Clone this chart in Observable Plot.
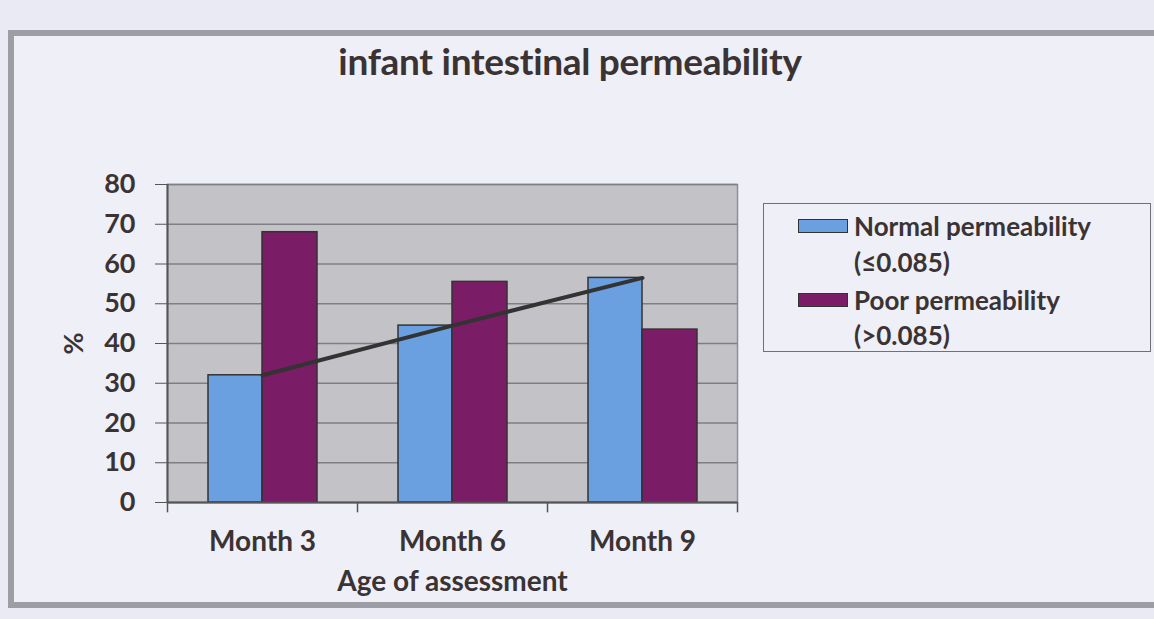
<!DOCTYPE html>
<html><head><meta charset="utf-8">
<script src="https://cdn.jsdelivr.net/npm/d3@7"></script>
<script src="https://cdn.jsdelivr.net/npm/@observablehq/plot@0.6"></script>
<style>
html,body{margin:0;padding:0;}
body{width:1154px;height:619px;background:#e9eaf3;overflow:hidden;position:relative;font-family:Lato,"Open Sans",sans-serif;color:#3b3333;}
#frame{position:absolute;left:8px;top:30px;width:1160px;height:566px;border:6px solid #9d9da5;border-right:none;background:#eeeff7;}
#chart{position:absolute;left:0;top:0;}
#title{position:absolute;left:0;width:1140px;top:38px;text-align:center;font-size:37px;line-height:46px;font-weight:700;letter-spacing:-0.3px;}
#legend{position:absolute;left:763px;top:203px;width:388px;height:149px;border:1.5px solid #707076;box-sizing:border-box;background:#eeeff7;}
.lrow{position:absolute;left:34px;height:34px;display:flex;align-items:center;font-size:26px;font-weight:700;white-space:nowrap;}
.sw{width:48px;height:12px;border:1.5px solid #333;margin-right:6px;}
.sub{padding-left:56px;}
</style></head>
<body>
<div id="frame"></div>
<div id="chart"></div>
<div id="title"></div>
<div id="legend"></div>
<script>
const months = ["Month 3", "Month 6", "Month 9"];
const normal = [32, 44.5, 56.5];
const poor = [68, 55.5, 43.5];
const yTicks = [0, 10, 20, 30, 40, 50, 60, 70, 80];
const seriesNames = ["Normal permeability", "Poor permeability"];
const seriesSub = ["(\u22640.085)", "(>0.085)"];
const seriesColors = ["#6a9fe0", "#7b1c66"];
const titleText = "infant intestinal permeability";
const xLabel = "Age of assessment";
const yLabel = "%";

document.getElementById("title").textContent = titleText;

const W = 1154, H = 619, mL = 167, mR = 417, mT = 184, mB = 117;
const bw = (W - mL - mR) / months.length;

const chart = Plot.plot({
  width: W, height: H,
  marginLeft: mL, marginRight: mR, marginTop: mT, marginBottom: mB,
  style: {background: "transparent", fontFamily: "Lato, 'Open Sans', sans-serif", color: "#3b3333", overflow: "visible"},
  x: {domain: months, padding: 0},
  y: {domain: [0, 80]},
  marks: [
    Plot.frame({fill: "#c3c3c7", stroke: "#8e8e94", strokeWidth: 1.5}),
    Plot.gridY(yTicks, {stroke: "#7e7e84", strokeOpacity: 1, strokeWidth: 1.5}),
    Plot.barY(months, {x: d => d, y: (d, i) => normal[i], fill: seriesColors[0], stroke: "#333", strokeWidth: 1.5, insetLeft: 41, insetRight: 95}),
    Plot.barY(months, {x: d => d, y: (d, i) => poor[i], fill: seriesColors[1], stroke: "#333", strokeWidth: 1.5, insetLeft: 95, insetRight: 40}),
    Plot.lineY(months, {x: d => d, y: (d, i) => normal[i], stroke: "#333", strokeWidth: 4}),
    Plot.ruleY([0], {stroke: "#555", strokeWidth: 2}),
    Plot.ruleX([months[0]], {dx: -bw / 2, y1: 0, y2: 80, stroke: "#555", strokeWidth: 2}),
    Plot.ruleX(months, {dx: -bw / 2, y1: 0, y2: -2.6, stroke: "#555", strokeWidth: 1.5}),
    Plot.ruleX([months[months.length - 1]], {dx: bw / 2, y1: 0, y2: -2.6, stroke: "#555", strokeWidth: 1.5}),
    Plot.axisY(yTicks, {tickSize: 12, tickPadding: 20, fontSize: 27, fontWeight: "bold", stroke: "#555", fill: "#3b3333",
      label: yLabel, labelArrow: "none", labelAnchor: "center", labelOffset: 104}),
    Plot.axisX({tickSize: 0, tickPadding: 29, fontSize: 28, fontWeight: "bold", fill: "#3b3333",
      label: xLabel, labelArrow: "none", labelAnchor: "center", labelOffset: 88})
  ]
});
document.getElementById("chart").appendChild(chart);

const legend = document.getElementById("legend");
const rowTops = [[5, 41], [79, 114]];
seriesNames.forEach((name, i) => {
  const r = document.createElement("div");
  r.className = "lrow";
  r.style.top = rowTops[i][0] + "px";
  const sw = document.createElement("div");
  sw.className = "sw";
  sw.style.background = seriesColors[i];
  r.appendChild(sw);
  r.appendChild(document.createTextNode(name));
  legend.appendChild(r);
  const s = document.createElement("div");
  s.className = "lrow sub";
  s.style.top = rowTops[i][1] + "px";
  s.textContent = seriesSub[i];
  legend.appendChild(s);
});
</script>
</body></html>
